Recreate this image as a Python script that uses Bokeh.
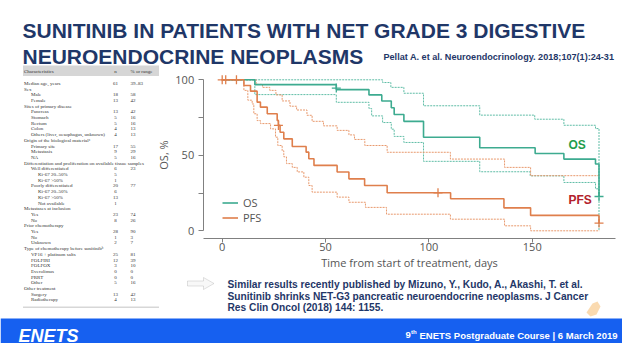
from bokeh.plotting import figure
from bokeh.models import (Range1d, FixedTicker, Label, LabelSet, ColumnDataSource,
                          BoxAnnotation, PolyAnnotation, Legend, LegendItem, LinearAxis)
from bokeh.embed import file_html
from bokeh.resources import INLINE

# ---------------- data ----------------
os_t = [0, 15.8, 55.2, 71.0, 77.2, 81.8, 83.2, 87.9, 97.4, 124.6, 151.4, 165.3, 180.6, 182.3]
os_s = [100, 96.8, 93.5, 90.0, 86.0, 81.5, 77.0, 72.5, 62.0, 55.0, 51.2, 47.5, 44.2, 22.7]
os_up_t = [0, 77.6, 81.6, 87.9, 97.4, 124.6, 151.2, 165.3, 180.6, 182.3]
os_up_s = [100, 98.2, 95.0, 91.1, 82.8, 76.6, 73.9, 69.9, 67.7, 22.7]
os_lo_t = [0, 15.8, 55.2, 71.0, 72.3, 77.6, 81.8, 83.2, 87.9, 97.4, 124.6, 149.0, 165.3, 180.6, 182.3]
os_lo_s = [100, 90.2, 85.1, 81.0, 76.1, 71.7, 67.3, 62.5, 58.5, 46.0, 39.1, 36.4, 32.0, 27.8, 0]

pfs_t = [0, 10.5, 13.7, 16.9, 18.5, 21.8, 26.6, 27.2, 28.0, 29.8, 33.9, 40.6, 41.9, 44.4,
         55.6, 61.3, 68.9, 79.8, 110.5, 136.3, 149.2, 182.3]
pfs_s = [100, 96.2, 92.5, 85.2, 81.9, 77.5, 73.1, 69.8, 65.3, 60.9, 55.8, 52.1, 47.7, 43.3,
         38.9, 34.4, 30.0, 25.2, 21.2, 15.2, 10.2, 5.1]
pfs_up_t = [0, 16.4, 19.5, 23.0, 26.0, 29.0, 32.8, 36.0, 41.0, 43.5, 49.0, 55.6, 61.3, 64.0,
            69.0, 79.8, 110.4, 136.6, 149.2, 182.5]
pfs_up_s = [100, 97, 95, 93, 90, 86, 82.5, 80, 76.5, 72.5, 69.5, 66.5, 63.5, 60.5,
            56.5, 52, 47.5, 42, 36.5, 36.5]
pfs_lo_t = [0, 10.5, 12.4, 14.5, 15.3, 16.9, 18.5, 23.4, 25.8, 26.9, 29.0, 29.8, 31.1, 33.9,
            36.3, 39.5, 41.9, 43.5, 55.6, 61.3, 69.3, 79.5, 110.4, 136.6, 149.2, 182.5]
pfs_lo_s = [100, 93, 86.5, 84, 77.5, 73, 71, 67.5, 62, 56.5, 53, 49, 44.5, 42,
            39, 35.5, 30, 25.6, 22.3, 18.9, 15.5, 11, 7.7, 3.3, 0, 0]

os_cens_t = [55.2, 182.3]
os_cens_s = [94.5, 22.7]
pfs_cens_t = [0.0, 1.7, 6.9, 27.2, 104.4, 182.3]
pfs_cens_s = [100, 100, 100, 69.8, 25.2, 5.1]

y_ticks = [0, 25, 50, 75, 100]
x_ticks = [0, 50, 100, 150]

tbl_char = ["Characteristics", "Median age, years", "Sex", "Male", "Female",
            "Sites of primary disease", "Pancreas", "Stomach", "Rectum", "Colon",
            "Others (liver, oesophagus, unknown)", "Origin of the biological material\u1d43",
            "Primary site", "Metastasis", "NA",
            "Differentiation and proliferation on available tissue samples",
            "Well differentiated", "Ki-67 20\u201350%", "Ki-67 >50%", "Poorly differentiated",
            "Ki-67 20\u201350%", "Ki-67 >50%", "Not available", "Metastases at inclusion",
            "Yes", "No", "Prior chemotherapy", "Yes", "No", "Unknown",
            "Type of chemotherapy before sunitinib\u1d47", "VP16 + platinum salts", "FOLFIRI",
            "FOLFOX", "Everolimus", "PRRT", "Other", "Other treatment", "Surgery", "Radiotherapy"]
tbl_n = ["n", "61", "", "18", "13", "", "13", "5", "5", "4", "4", "", "17", "9", "5", "",
         "6", "5", "1", "20", "6", "13", "1", "", "23", "8", "", "28", "1", "2", "",
         "25", "12", "3", "0", "0", "5", "", "13", "4"]
tbl_pct = ["% or range", "39\u201383", "", "58", "42", "", "42", "16", "16", "13", "13", "",
           "55", "29", "16", "", "23", "", "", "77", "", "", "", "", "74", "26", "", "90",
           "3", "7", "", "81", "39", "10", "0", "0", "16", "", "42", "13"]
tbl_indent = [0, 0, 0, 1, 1, 0, 1, 1, 1, 1, 1, 0, 1, 1, 1, 0, 1, 2, 2, 1, 2, 2, 2, 0,
              1, 1, 0, 1, 1, 1, 0, 1, 1, 1, 1, 1, 1, 0, 1, 1]

NAVY = "#1f3768"
BLUE = "#1660f0"
OS_C, OS_CI = "#3dab90", "#5fbda6"
PFS_C, PFS_CI = "#df7f4c", "#e8996d"

W, H = 622, 343

# pixel calibration of the KM panel (slide pixels)
X0_PX, PX_PER_DAY = 221.7, 2.067
Y0_PX, PX_PER_PCT = 230.3, 1.51
x_lo = (0 - X0_PX) / PX_PER_DAY
x_hi = (W - X0_PX) / PX_PER_DAY
y_hi = Y0_PX / PX_PER_PCT
y_lo = (Y0_PX - H) / PX_PER_PCT
axis_x_at = (202.7 - X0_PX) / PX_PER_DAY
axis_y_at = (Y0_PX - 237.7) / PX_PER_PCT
axis_x_end = (615 - X0_PX) / PX_PER_DAY

p = figure(width=W, height=H, output_backend="svg", toolbar_location=None,
           x_range=Range1d(x_lo, x_hi), y_range=Range1d(y_lo, y_hi),
           x_axis_location=None, y_axis_location=None, min_border=0,
           background_fill_color="white", border_fill_color="white", outline_line_color=None)
p.xgrid.visible = False
p.ygrid.visible = False

yax = LinearAxis(fixed_location=axis_x_at, ticker=FixedTicker(ticks=y_ticks), bounds=(0, 100),
                 axis_label="OS, %")
xax = LinearAxis(fixed_location=axis_y_at, ticker=FixedTicker(ticks=x_ticks),
                 bounds=(axis_x_at, axis_x_end),
                 axis_label="Time from start of treatment, days")
for ax in (xax, yax):
    ax.axis_line_color = "#808080"
    ax.major_tick_line_color = "#808080"
    ax.minor_tick_line_color = None
    ax.major_tick_in = 0
    ax.major_label_text_font = "Open Sans"
    ax.major_label_text_font_size = "11px"
    ax.major_label_text_color = "#555555"
    ax.axis_label_text_font = "Open Sans"
    ax.axis_label_text_font_size = "11px"
    ax.axis_label_text_font_style = "normal"
    ax.axis_label_text_color = "#555555"
yax.major_label_overrides = {25: "", 75: ""}
yax.major_tick_out = 5
yax.major_label_standoff = 4
yax.axis_label_standoff = 2
xax.major_tick_out = 4
xax.major_label_standoff = 1
xax.axis_label_standoff = 0
p.add_layout(yax, "left")
p.add_layout(xax, "below")

p.step(os_up_t, os_up_s, mode="after", line_color=OS_CI, line_width=1, line_dash="2 1")
p.step(os_lo_t, os_lo_s, mode="after", line_color=OS_CI, line_width=1, line_dash="2 1")
p.step(pfs_up_t, pfs_up_s, mode="after", line_color=PFS_CI, line_width=1, line_dash="2 1")
p.step(pfs_lo_t, pfs_lo_s, mode="after", line_color=PFS_CI, line_width=1, line_dash="2 1")
r_os = p.step(os_t, os_s, mode="after", line_color=OS_C, line_width=1.6)
r_pfs = p.step(pfs_t, pfs_s, mode="after", line_color=PFS_C, line_width=1.6)
p.scatter(os_cens_t, os_cens_s, marker="cross", size=9, line_color=OS_C, line_width=1.3)
p.scatter(pfs_cens_t, pfs_cens_s, marker="cross", size=9, line_color=PFS_C, line_width=1.3)

legend = Legend(items=[LegendItem(label="OS", renderers=[r_os]),
                       LegendItem(label="PFS", renderers=[r_pfs])],
                location=(222, H - 224.5), background_fill_alpha=0,
                border_line_color=None, padding=0, margin=0, spacing=-4, glyph_width=16,
                glyph_height=11, label_height=11, label_standoff=5, label_text_font="Open Sans",
                label_text_font_size="11px", label_text_line_height=1.0,
                label_text_color="#555555")
p.add_layout(legend)

p.add_layout(Label(x=167.5, y=52.5, text="OS", text_font="Liberation Sans",
                   text_font_style="bold", text_font_size="12px", text_color="#1f9d4c"))
p.add_layout(Label(x=167.5, y=16, text="PFS", text_font="Liberation Sans",
                   text_font_style="bold", text_font_size="12px", text_color="#b3222c"))


def lab(x, y, text, size, color=NAVY, style="bold", font="Liberation Sans", align="left"):
    p.add_layout(Label(x=x, y=y, x_units="canvas", y_units="canvas", text=text,
                       text_font=font, text_font_style=style, text_font_size=f"{size}px",
                       text_color=color, text_align=align, text_baseline="alphabetic"))


def box(l, r, t, b, color):
    p.add_layout(BoxAnnotation(left=l, right=r, top=t, bottom=b,
                               left_units="canvas", right_units="canvas", top_units="canvas",
                               bottom_units="canvas", fill_color=color, fill_alpha=1,
                               line_color=None, level="underlay"))


# title + citation
lab(22, 30, "SUNITINIB IN PATIENTS WITH NET GRADE 3 DIGESTIVE", 21)
lab(22, 56, "NEUROENDOCRINE NEOPLASMS", 21)
lab(383, 56, "Pellat A. et al. Neuroendocrinology. 2018;107(1):24-31", 9.1)

# note text
note_lines = ["Similar results recently published by Mizuno, Y., Kudo, A., Akashi, T. et al.",
              "Sunitinib shrinks NET-G3 pancreatic neuroendocrine neoplasms. J Cancer",
              "Res Clin Oncol (2018) 144: 1155."]
for i, t in enumerate(note_lines):
    lab(227, 284 + 11.7 * i, t, 10.2)

# arrow
ax_ = [187, 203, 203, 213.5, 203, 203, 187]
ay_ = [280.5, 280.5, 277, 283, 289, 285.5, 285.5]
p.add_layout(PolyAnnotation(xs=ax_, ys=ay_, xs_units="canvas", ys_units="canvas",
                            fill_color="#eeeeee", line_color="#9a9a9a", line_width=1))

# table
box(22.5, 158.5, 65, 75.5, "#d6d6d6")
box(22.5, 158.5, 306.2, 307, "#b0b0b0")
ty = [72.6] + [84.3 + 5.7 * (i - 1) for i in range(1, len(tbl_char))]
src_c = ColumnDataSource(dict(x=[23.5 + 7 * k for k in tbl_indent], y=ty, t=tbl_char))
src_n = ColumnDataSource(dict(x=[115] * len(tbl_n), y=ty, t=tbl_n))
src_p = ColumnDataSource(dict(x=[130] * len(tbl_pct), y=ty, t=tbl_pct))
for src, al in ((src_c, "left"), (src_n, "center"), (src_p, "left")):
    p.add_layout(LabelSet(x="x", y="y", text="t", source=src, x_units="canvas",
                          y_units="canvas", text_font="Liberation Serif",
                          text_font_size="5px", text_color="#333333", text_align=al,
                          text_baseline="alphabetic"))

# small logo above footer (right)
p.add_layout(PolyAnnotation(xs=[586, 592, 597, 600, 596, 590],
                            ys=[312, 303, 301, 306, 314, 316],
                            xs_units="canvas", ys_units="canvas",
                            fill_color="#f2a23a", line_color=None))

# footer band
box(0, W, 318, H, BLUE)
lab(18, 335, "ENETS", 18, color="white", style="bold italic")
lab(405, 334.5, "9", 9.5, color="white")
lab(410.5, 331, "th", 6, color="white")
lab(419, 334.5, "ENETS Postgraduate Course | 6 March 2019", 9.5, color="white")

open("out.html", "w").write(file_html(p, INLINE))
